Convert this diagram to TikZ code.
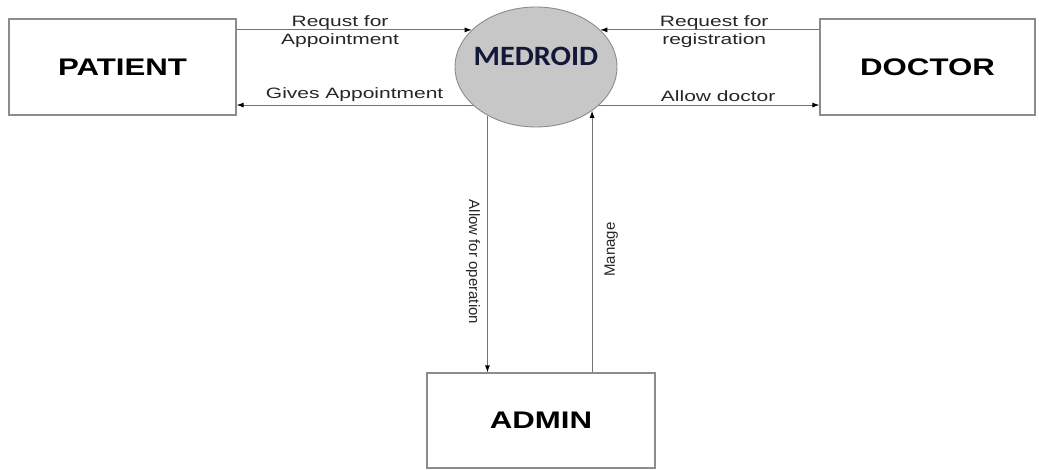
\documentclass[tikz,border=0pt]{standalone}
\usepackage{fontspec}
\setmainfont{Liberation Sans}
\newfontfamily\calfont{Carlito}
\usepackage{graphicx}
\usetikzlibrary{shapes.geometric, arrows.meta}
\definecolor{medtxt}{HTML}{141838}
\newcommand{\lblf}{\fontsize{15}{18}\selectfont}
\newcommand{\boxf}{\fontsize{24}{28}\selectfont\bfseries}
\newcommand{\wide}[1]{\scalebox{1.4}[1]{#1}}

\begin{document}
\begin{tikzpicture}[x = 1pt, y = -1pt, >={Latex[length=7pt, width=5pt, color=black]},
    ent/.style = {draw = black!45, line width = 1.2pt, minimum height = 96pt, font = \boxf},
    flow/.style = {->, draw = black!55, line width = 0.9pt},
    lbl/.style = {font = \lblf, text = black!85}]
    \useasboundingbox (0,0) rectangle (1039,470);
    \node[ent, minimum width = 227pt] (P) at (122.5,67) {\scalebox{1.3}[1]{PATIENT}};
    \node[ent, minimum width = 215pt] (D) at (927.5,67) {\scalebox{1.3}[1]{DOCTOR}};
    \node[ent, minimum width = 228pt, minimum height = 95pt] (A) at (541,420.5) {\scalebox{1.3}[1]{ADMIN}};
    \node[draw = black!45, fill = black!22, ellipse, line width = 0.9pt, inner sep = 0pt,
      minimum width = 162pt, minimum height = 120pt,
      label = {[font = \calfont\fontsize{28}{30}\selectfont\bfseries, text = medtxt, yshift = 11pt]center:\scalebox{1.08}[1]{MEDROID}}] (M) at (536,67) {};
    \draw[flow] (P.east |- M.150) -- node[pos = .44, lbl, align = center, yshift = -2pt] {\wide{Requst for}\\\wide{Appointment}} (M.150);
    \draw[flow] (M.211) -- node[above, lbl] {\wide{Gives Appointment}} (P.east |- M.211);
    \draw[flow] (D.west |- M.30) -- node[pos = .48, lbl, align = center, yshift = -2pt] {\wide{Request for}\\\wide{registration}} (M.30);
    \draw[flow] (M.329) -- node[pos = .54, above, lbl] {\wide{Allow doctor}} (D.west |- M.329);
    \draw[flow] (M.225) -- node[pos = .57, rotate = -90, anchor = north, lbl, inner sep = 7pt] {Allow for operation} (M.225 |- A.north);
    \draw[flow] (M.322 |- A.north) -- node[pos = .47, rotate = 90, anchor = north, lbl, inner sep = 12pt] {Manage} (M.322);
  \end{tikzpicture}
\end{document}
